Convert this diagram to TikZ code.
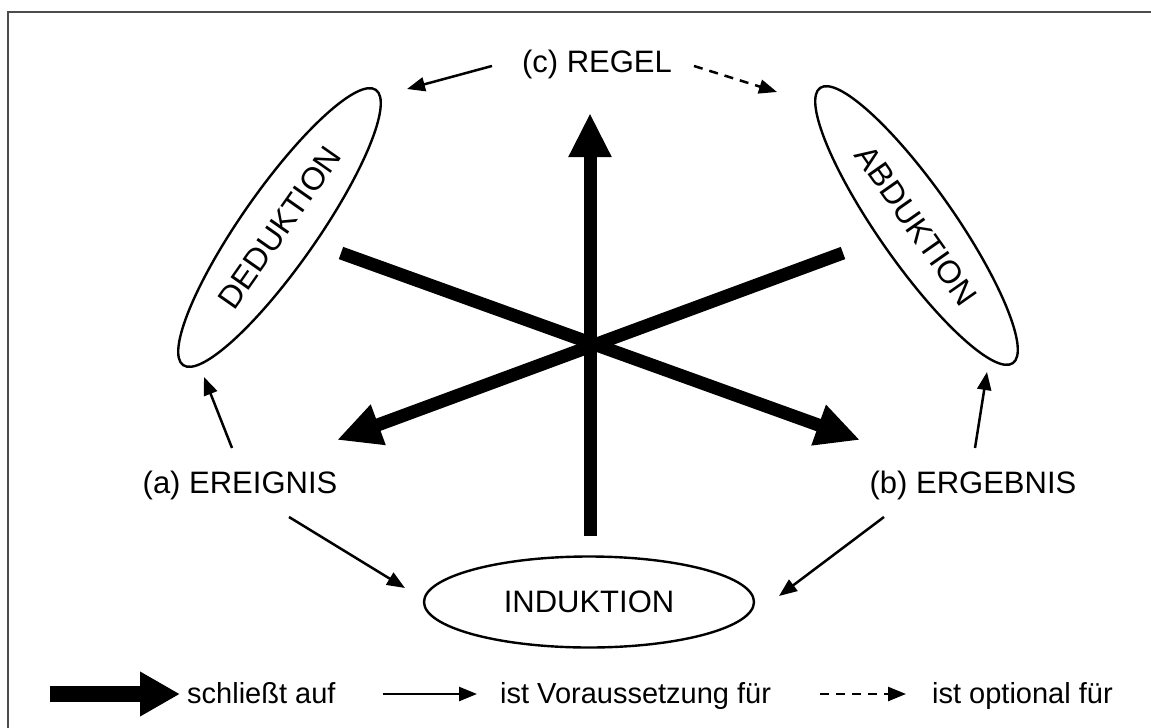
\documentclass[tikz,border=0pt]{standalone}
\usepackage{fontspec}
\setmainfont{Liberation Sans}
\usetikzlibrary{arrows.meta,shapes.geometric}
\begin{document}
\begin{tikzpicture}[x=1pt,y=-1pt,
  lbl/.style={font=\fontsize{31}{36}\selectfont, inner sep=0pt},
  legendtext/.style={font=\fontsize{29}{34}\selectfont, inner sep=0pt, anchor=base west},
  oval/.style={draw, ellipse, line width=2.4pt, inner sep=0pt, font=\fontsize{32}{36}\selectfont},
  infer/.style={line width=13pt, -{Triangle[length=44pt,width=40pt]}},
  inferkey/.style={line width=16pt, -{Triangle[length=40pt,width=42pt]}},
  pre/.style={line width=2.5pt, -{Triangle[length=18pt,width=14pt]}},
  opt/.style={pre, dash pattern=on 9pt off 7pt},
  frameline/.style={draw=black!70, line width=2pt}
]
\useasboundingbox (0,0) rectangle (1151,728);
% frame
\draw[frameline] (8,728) -- (8,12) -- (1151,12);

% labels
\node[lbl, anchor=base] (regel) at (597,72) {(c) REGEL};
\node[lbl, anchor=base] (ereignis) at (240,493) {(a) EREIGNIS};
\node[lbl, anchor=base] (ergebnis) at (973,493) {(b) ERGEBNIS};

% inference ovals
\node[oval, minimum width=330pt, minimum height=91pt, font=\fontsize{31}{36}\selectfont] (induktion) at (589,602) {INDUKTION};
\node[oval, rotate=55, minimum width=336pt, minimum height=76pt] (deduktion) at (279.5,227.5) {DEDUKTION};
\node[oval, rotate=-55, minimum width=336pt, minimum height=76pt] (abduktion) at (916.5,225.5) {ABDUKTION};

% thick inference arrows
\coordinate (ul) at (341,253);
\coordinate (lr) at (860,440);
\coordinate (ur) at (843,253);
\coordinate (ll) at (337,440);
\coordinate (bot) at (590,536);
\coordinate (top) at (590,113);
\draw[infer] (bot) -- (top);
\draw[infer] (ul) -- (lr);
\draw[infer] (ur) -- (ll);

% preconditions
\draw[pre] ([shift={(-105,2)}]regel.center) -- ([shift={(127.5,-138.5)}]deduktion.center);
\draw[opt] ([shift={(97,2)}]regel.center) -- ([shift={(-139.5,-133.5)}]abduktion.center);
\draw[pre] ([shift={(-8,-37)}]ereignis.center) -- ([shift={(-75.5,149.5)}]deduktion.center);
\draw[pre] ([shift={(2,-37)}]ergebnis.center) -- ([shift={(70.5,146.5)}]abduktion.center);
\draw[pre] ([shift={(49,32)}]ereignis.center) -- ([shift={(-184,-14)}]induktion.center);
\draw[pre] ([shift={(-89,32)}]ergebnis.center) -- ([shift={(190,-6)}]induktion.center);

% legend
\node[legendtext] (l1) at (187,703) {schließt auf};
\node[legendtext] (l2) at (500,703) {ist Voraussetzung für};
\node[legendtext] (l3) at (932,703) {ist optional für};
\coordinate (k1) at (50,694);
\coordinate (k2) at (383,694);
\coordinate (k3) at (820,694);
\draw[inferkey, shorten >=7pt] (k1) -- (k1 -| l1.west);
\draw[pre, shorten >=23pt] (k2) -- (k2 -| l2.west);
\draw[opt, shorten >=26pt] (k3) -- (k3 -| l3.west);
\end{tikzpicture}
\end{document}
